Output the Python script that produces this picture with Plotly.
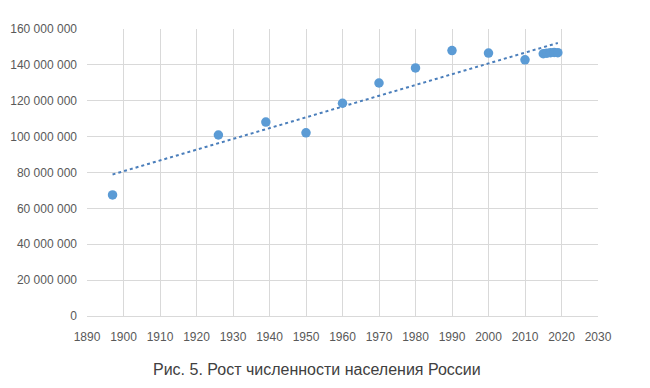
import numpy as np
import plotly.graph_objects as go

years = [1897, 1926, 1939, 1950, 1960, 1970, 1980, 1990, 2000, 2010, 2015, 2016, 2017, 2018, 2019]
population = [67500000, 100900000, 108100000, 102100000, 118600000, 129900000, 138300000,
              148000000, 146600000, 142800000, 146200000, 146500000, 146800000, 146900000, 146800000]
title_text = "Рис. 5. Рост численности населения России"

coef = np.polyfit(years, population, 1)
trend_x = [min(years), max(years)]
trend_y = [float(np.polyval(coef, v)) for v in trend_x]

fig = go.Figure()
fig.add_trace(go.Scatter(x=trend_x, y=trend_y, mode="lines",
                         line=dict(color="#4A7EBB", width=2, dash="dot"),
                         hoverinfo="skip", showlegend=False))
fig.add_trace(go.Scatter(x=years, y=population, mode="markers",
                         marker=dict(color="#5B9BD5", size=9.5),
                         showlegend=False))

font_family = "Liberation Sans, Arial, sans-serif"
fig.update_layout(
    width=650, height=388,
    margin=dict(l=79, r=60, t=21, b=80, autoexpand=False),
    paper_bgcolor="white", plot_bgcolor="white",
    separators=". ",
    font=dict(family=font_family, size=12, color="#595959"),
    xaxis=dict(range=[1890, 2030], dtick=10, tick0=1890, showgrid=True,
               gridcolor="#D9D9D9", gridwidth=1, zeroline=False,
               showline=True, linecolor="#D9D9D9", mirror=False,
               ticks="", ticklabelstandoff=10,
               tickfont=dict(size=12, color="#595959")),
    yaxis=dict(range=[0, 160000000], dtick=20000000, tickformat=",d",
               showgrid=True, gridcolor="#D9D9D9", gridwidth=1, zeroline=False,
               showline=False, ticks="", ticklabelstandoff=9,
               tickfont=dict(size=12, color="#595959")),
    annotations=[dict(text=title_text, xref="paper", yref="paper",
                      x=0.45, y=-0.185, xanchor="center", yanchor="middle",
                      showarrow=False,
                      font=dict(family=font_family, size=16, color="#404040"))],
)
fig.write_html("out.html")
